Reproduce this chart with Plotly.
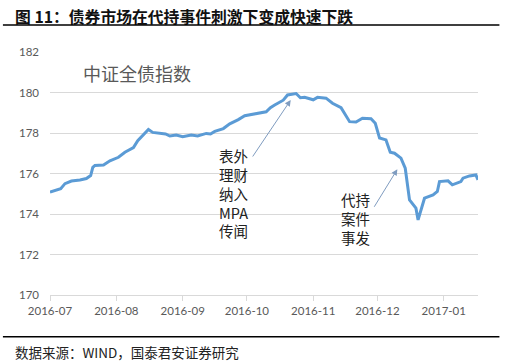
import plotly.graph_objects as go

dates = [
    "2016-07-01", "2016-07-04", "2016-07-06", "2016-07-08", "2016-07-11", "2016-07-15",
    "2016-07-18", "2016-07-20", "2016-07-21", "2016-07-22", "2016-07-26", "2016-07-29",
    "2016-08-02", "2016-08-05", "2016-08-09", "2016-08-11", "2016-08-15", "2016-08-16",
    "2016-08-18", "2016-08-22", "2016-08-24", "2016-08-26", "2016-08-29", "2016-09-01",
    "2016-09-05", "2016-09-08", "2016-09-12", "2016-09-14", "2016-09-16", "2016-09-20",
    "2016-09-23", "2016-09-27", "2016-09-30", "2016-10-10", "2016-10-12", "2016-10-14",
    "2016-10-18", "2016-10-20", "2016-10-24", "2016-10-26", "2016-10-28", "2016-11-01",
    "2016-11-03", "2016-11-07", "2016-11-10", "2016-11-14", "2016-11-18", "2016-11-21",
    "2016-11-24", "2016-11-28", "2016-11-30", "2016-12-02", "2016-12-05", "2016-12-07",
    "2016-12-09", "2016-12-12", "2016-12-14", "2016-12-16", "2016-12-19", "2016-12-20",
    "2016-12-22", "2016-12-23", "2016-12-27", "2016-12-29", "2016-12-30", "2017-01-03",
    "2017-01-05", "2017-01-09", "2017-01-10", "2017-01-13", "2017-01-16", "2017-01-17",
]
values = [
    175.08, 175.18, 175.25, 175.50, 175.63, 175.68,
    175.75, 175.90, 176.30, 176.40, 176.42, 176.63,
    176.80, 177.05, 177.28, 177.62, 178.02, 178.17,
    178.03, 177.96, 177.95, 177.85, 177.90, 177.82,
    177.90, 177.85, 177.98, 177.95, 178.08, 178.22,
    178.45, 178.66, 178.85, 179.05, 179.25, 179.38,
    179.62, 179.88, 179.95, 179.74, 179.76, 179.64,
    179.76, 179.72, 179.47, 179.25, 178.56, 178.54,
    178.73, 178.70, 178.48, 177.75, 177.66, 177.05,
    177.00, 176.76, 176.26, 174.70, 174.29, 173.71,
    174.37, 174.78, 174.94, 175.11, 175.60, 175.64,
    175.44, 175.60, 175.77, 175.88, 175.93, 175.69,
]

title_text = "图 11：债券市场在代持事件刺激下变成快速下跌"
series_label = "中证全债指数"
note1 = "表外<br>理财<br>纳入<br>MPA<br>传闻"
note2 = "代持<br>案件<br>事发"
source_text = "数据来源：WIND，国泰君安证券研究"
y_ticks = [170, 172, 174, 176, 178, 180, 182]

CJK = "Noto Sans CJK SC"
TICKF = "Lato, Liberation Sans, sans-serif"

fig = go.Figure()
fig.add_trace(go.Scatter(
    x=dates, y=values, mode="lines",
    line=dict(color="#5b9bd5", width=3), showlegend=False,
))

fig.update_layout(
    width=509, height=363,
    margin=dict(l=50, r=31, t=52, b=68, autoexpand=False),
    paper_bgcolor="white", plot_bgcolor="white",
    xaxis=dict(
        type="date", range=["2016-07-01", "2017-01-17"], automargin=False,
        tick0="2016-07-01", dtick="M1", tickformat="%Y-%m",
        showgrid=False, showline=True, linecolor="#d9d9d9", linewidth=1,
        ticks="outside", ticklen=5, tickcolor="#d9d9d9",
        tickfont=dict(family=TICKF, size=11.5, color="#595959"),
    ),
    yaxis=dict(
        range=[170, 182], tickvals=y_ticks, automargin=False,
        showgrid=True, gridcolor="#d9d9d9", gridwidth=1, zeroline=False,
        showline=False, ticks="", ticklabelstandoff=10,
        tickfont=dict(family=TICKF, size=11.5, color="#595959"),
    ),
    font=dict(family=CJK),
)

# Title and source
fig.add_annotation(xref="paper", yref="paper", x=-0.087, y=1.148, xanchor="left", yanchor="middle",
                   text="<b>" + title_text + "</b>", showarrow=False,
                   font=dict(family=CJK, size=15.8, color="#111111"))
fig.add_annotation(xref="paper", yref="paper", x=-0.087, y=-0.233, xanchor="left", yanchor="middle",
                   text=source_text, showarrow=False,
                   font=dict(family=CJK, size=13.5, color="#222222"))

# Horizontal rules (drawn as arrowless annotation lines)
for yr in (1.111, -0.1716):
    fig.add_annotation(xref="paper", yref="paper", x=-0.11, y=yr, ax=498, ay=0, text="",
                       showarrow=True, arrowhead=0, arrowwidth=1.5, arrowcolor="black",
                       standoff=0, startstandoff=0)

# In-chart labels
fig.add_annotation(xref="paper", yref="paper", x=0.203, y=0.914, xanchor="center", yanchor="middle",
                   text=series_label, showarrow=False,
                   font=dict(family=CJK, size=18, color="#595959"))
fig.add_annotation(xref="paper", yref="paper", x=0.39, y=0.625, xanchor="left", yanchor="top",
                   text=note1, showarrow=False, align="left",
                   font=dict(family=CJK, size=14.5, color="#222222"))
fig.add_annotation(xref="paper", yref="paper", x=0.675, y=0.445, xanchor="left", yanchor="top",
                   text=note2, showarrow=False, align="left",
                   font=dict(family=CJK, size=14.5, color="#222222"))

# Arrows
fig.add_annotation(xref="paper", yref="paper", x=0.5624, y=0.8025, ax=-39, ay=58, text="",
                   showarrow=True, arrowhead=2, arrowsize=1.2, arrowwidth=1, arrowcolor="#7f9cc0")
fig.add_annotation(xref="paper", yref="paper", x=0.8115, y=0.5173, ax=-24, ay=39, text="",
                   showarrow=True, arrowhead=2, arrowsize=1.2, arrowwidth=1, arrowcolor="#7f9cc0")

fig.write_html("out.html", config={"displayModeBar": False},
               post_script="document.body.style.margin='0';document.body.style.overflow='hidden';")
